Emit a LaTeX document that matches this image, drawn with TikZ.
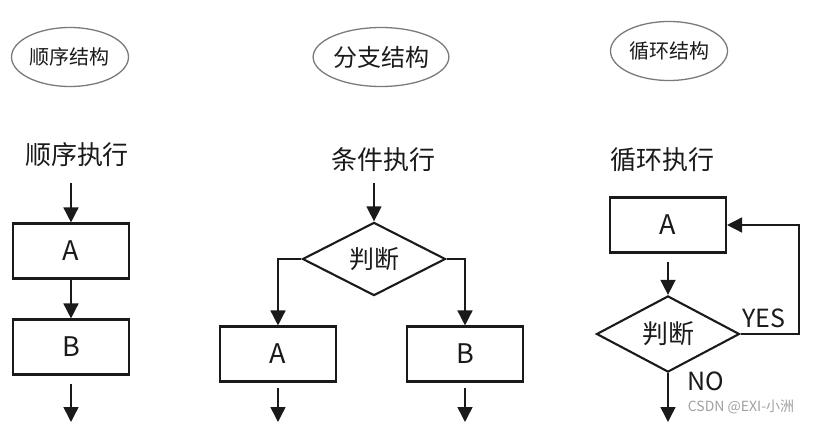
\documentclass[tikz,border=0pt]{standalone}
\usepackage{fontspec}
\setmainfont{Noto Sans CJK SC}
\usetikzlibrary{arrows.meta}
\usetikzlibrary{shapes.geometric}
\definecolor{fcink}{HTML}{1A1A1A}
\definecolor{fcoval}{HTML}{7A7A7A}
\definecolor{fcmark}{HTML}{A0A0A0}
\tikzset{
  fctitle/.style={
    draw=fcoval, ellipse, line width=1.3pt, inner sep=0pt,
    minimum width=117pt, minimum height=59pt,
    font=\fontsize{20}{20}\selectfont, text=fcink},
  fclabel/.style={font=\fontsize{26}{26}\selectfont, text=fcink},
  fcbox/.style={
    draw=fcink, line width=2.1pt, minimum width=116pt, minimum height=55pt,
    inner sep=0pt, font=\fontsize{27}{27}\selectfont, text=fcink},
  fcdecide/.style={
    draw=fcink, diamond, line width=2.1pt, inner sep=0pt,
    minimum width=143pt, minimum height=67pt,
    font=\fontsize{25}{25}\selectfont, text=fcink},
  fcarrow/.style={-{Triangle[length=15pt, width=15pt]}, draw=fcink,
    line width=1.5pt},
  fctag/.style={font=\fontsize{25}{25}\selectfont, text=fcink},
}

\begin{document}
\begin{tikzpicture}[x=1pt, y=-1pt]
\useasboundingbox (0,0) rectangle (815,423);

% Sequence structure.
\node[fctitle] (seqtitle) at (70,57) {顺序结构};
\node[fclabel] (seqlabel) at (77,155) {顺序执行};
\coordinate (seqin) at (71,183);
\node[fcbox] (seqA) at (71,251) {A};
\node[fcbox] (seqB) at (71,347) {B};
\coordinate (seqout) at (71,422);
\draw[fcarrow] (seqin) -- (seqA.north);
\draw[fcarrow] (seqA.south) -- (seqB.north);
\draw[fcarrow, shorten <=8pt] (seqB.south) -- (seqout);

% Branch structure.
\node[fctitle, font=\fontsize{24}{24}\selectfont] (brtitle) at (381,57)
  {分支结构};
\node[fclabel] (brlabel) at (383,160) {条件执行};
\coordinate (brin) at (374,183);
\node[fcdecide] (brjudge) at (374,259) {判断};
\node[fcbox] (brA) at (278,354) {A};
\node[fcbox] (brB) at (465,354) {B};
\coordinate (broutA) at (278,422);
\coordinate (broutB) at (465,422);
\draw[fcarrow] (brin) -- (brjudge.north);
\draw[fcarrow] (brjudge.west) -| (brA.north);
\draw[fcarrow] (brjudge.east) -| (brB.north);
\draw[fcarrow, shorten <=5pt] (brA.south) -- (broutA);
\draw[fcarrow, shorten <=5pt] (brB.south) -- (broutB);

% Loop structure.
\node[fctitle] (lptitle) at (669,51) {循环结构};
\node[fclabel] (lplabel) at (662,160) {循环执行};
\node[fcbox] (lpA) at (668,225) {A};
\node[fcdecide, font=\fontsize{26}{26}\selectfont] (lpjudge) at (668,334)
  {判断};
\coordinate (lpturn) at (799,334);
\coordinate (lpout) at (668,422);
\draw[fcarrow, shorten <=8pt] (lpA.south) -- (lpjudge.north);
\draw[fcarrow] (lpjudge.east) -- (lpturn) |- (lpA.east);
\draw[fcarrow] (lpjudge.south) -- (lpout);
\node[fctag] (lpyes) at (764,318) {YES};
\node[fctag] (lpno) at (706,381) {NO};

% Watermark.
\node[font=\fontsize{14}{14}\selectfont, text=fcmark] (mark) at (741,407)
  {CSDN @EXI-小洲};

\end{tikzpicture}
\end{document}
